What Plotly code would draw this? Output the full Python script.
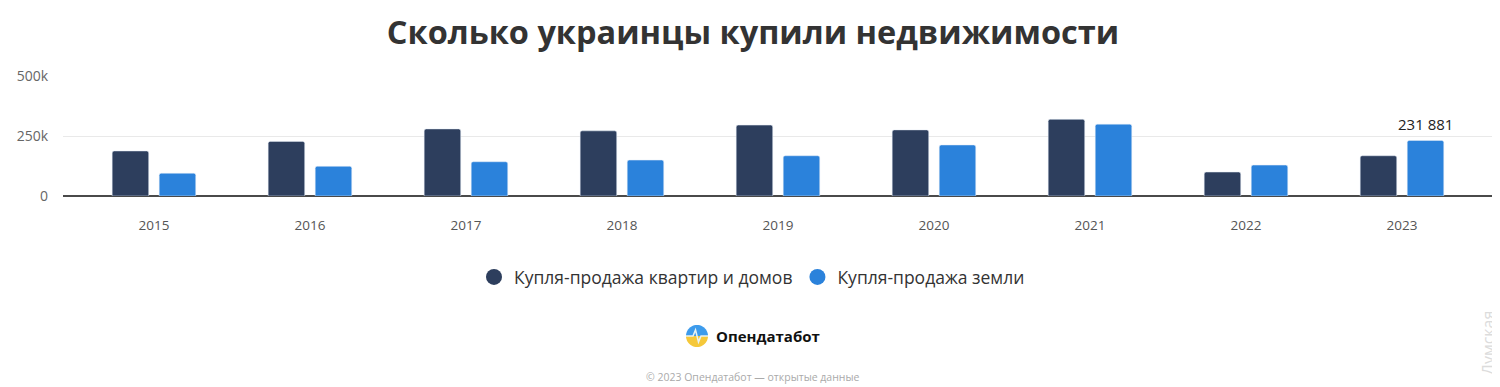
import math
import plotly.graph_objects as go

years = ["2015", "2016", "2017", "2018", "2019", "2020", "2021", "2022", "2023"]
homes = [188000, 228000, 280000, 272000, 296000, 276000, 320000, 100000, 168000]
land = [95000, 124000, 143000, 150000, 168000, 213000, 300000, 129000, 231881]
series_names = ["Купля-продажа квартир и домов", "Купля-продажа земли"]
y_tickvals = [0, 250000, 500000]
y_ticktext = ["0", "250k", "500k"]

DARK = "#2d3e5d"
BLUE = "#2b82db"

# the page body adds an 8px margin; compensate so positions match the reference
OFF = 8
W, H = 1500 - OFF, 387 - OFF
L = 63 - OFF
R = W - (1492 - OFF)
T = 76 - OFF
B = H - (196 - OFF)
PW = W - L - R
PH = H - T - B


def px(x):
    return (x - OFF - L) / PW


def py(y):
    return (H - B - (y - OFF)) / PH


fig = go.Figure()
fig.add_trace(go.Bar(x=years, y=homes, name=series_names[0], marker_color=DARK,
                     showlegend=False, hoverinfo="y"))
fig.add_trace(go.Bar(x=years, y=land, name=series_names[1], marker_color=BLUE,
                     showlegend=False, hoverinfo="y"))
# legend entries with round markers
for nm, col in zip(series_names, [DARK, BLUE]):
    fig.add_trace(go.Scatter(x=[None], y=[None], mode="markers", name=nm,
                             marker=dict(size=16, color=col)))

last_label = f"{land[-1]:,}".replace(",", " ")

annotations = [
    dict(x=len(years) - 1, y=land[-1], xref="x", yref="y", text=last_label,
         showarrow=False, xshift=24, yshift=4, yanchor="bottom",
         font=dict(family="Open Sans", size=15, color="#222")),
    dict(x=px(714), y=py(336), xref="paper", yref="paper", text="<b>Опендатабот</b>",
         showarrow=False, xanchor="left", yanchor="middle",
         font=dict(family="Open Sans", size=15, color="#111")),
    dict(x=px(753), y=py(377), xref="paper", yref="paper",
         text="© 2023 Опендатабот — открытые данные",
         showarrow=False, xanchor="center", yanchor="middle",
         font=dict(family="Open Sans", size=10.5, color="#aaaaaa")),
    dict(x=px(1488), y=py(343), xref="paper", yref="paper", text="Думская",
         showarrow=False, textangle=-90, xanchor="center", yanchor="middle",
         font=dict(family="Open Sans", size=16, color="#dcdcdc")),
]

# logo icon
r = 11
top = "M " + " L ".join(f"{r*math.cos(math.pi*i/24):.2f},{r*math.sin(math.pi*i/24):.2f}" for i in range(25)) + " Z"
bot = "M " + " L ".join(f"{r*math.cos(math.pi*i/24):.2f},{-r*math.sin(math.pi*i/24):.2f}" for i in range(25)) + " Z"
ax, ay = px(697), py(336)
shapes = [
    dict(type="path", xref="paper", yref="paper", xsizemode="pixel", ysizemode="pixel",
         xanchor=ax, yanchor=ay, path=top, fillcolor="#3d9bec", line=dict(width=0)),
    dict(type="path", xref="paper", yref="paper", xsizemode="pixel", ysizemode="pixel",
         xanchor=ax, yanchor=ay, path=bot, fillcolor="#f5c83a", line=dict(width=0)),
    dict(type="path", xref="paper", yref="paper", xsizemode="pixel", ysizemode="pixel",
         xanchor=ax, yanchor=ay, path="M -11,0 L -4,0 L -1.5,6 L 1.5,-6 L 4,0 L 11,0",
         line=dict(color="#e9f2f0", width=1.5)),
]

fig.update_layout(
    width=W, height=H,
    margin=dict(l=L, r=R, t=T, b=B, autoexpand=False),
    paper_bgcolor="white", plot_bgcolor="white",
    title=dict(text="<b>Сколько украинцы купили недвижимости</b>", x=(753 - OFF) / W, xanchor="center",
               xref="container", y=1 - (33 - OFF) / H, yref="container", yanchor="middle",
               font=dict(family="Open Sans", size=32.5, color="#333333")),
    barmode="group", bargap=0.397, bargroupgap=0.223, barcornerradius=2,
    showlegend=True,
    legend=dict(orientation="h", x=px(752), xanchor="center", y=py(277), yanchor="middle",
                font=dict(family="Open Sans", size=17.5, color="#333333"),
                itemsizing="trace", bgcolor="rgba(0,0,0,0)"),
    xaxis=dict(type="category", range=[-0.583, 8.577], showgrid=False, showline=False,
               ticks="", ticklabelstandoff=19,
               tickfont=dict(family="Open Sans", size=13.5, color="#555555"), fixedrange=True),
    yaxis=dict(range=[0, 501000], tickvals=y_tickvals, ticktext=y_ticktext,
               showgrid=True, gridcolor="#e9e9e9", gridwidth=1,
               zeroline=True, zerolinecolor="#4a4a4a", zerolinewidth=1.5,
               ticks="", ticklabelstandoff=14,
               tickfont=dict(family="Open Sans", size=14, color="#666666"), fixedrange=True),
    annotations=annotations,
    shapes=shapes,
    font=dict(family="Open Sans"),
)

fig.write_html("out.html")
